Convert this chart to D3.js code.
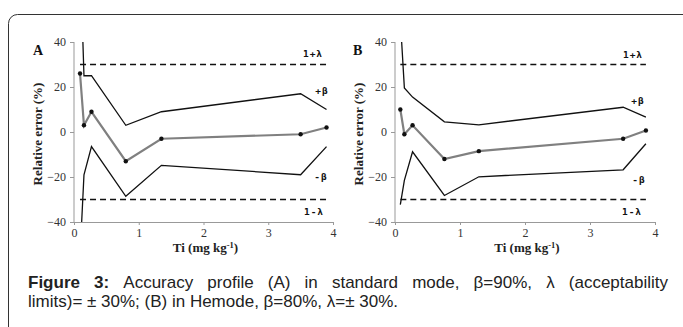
<!DOCTYPE html>
<html>
<head>
<meta charset="utf-8">
<script src="https://cdn.jsdelivr.net/npm/d3@7"></script>
<style>
  body { margin: 0; background: #fff; }
  svg { display: block; }
  .axis-title { font-family: "Liberation Serif", serif; font-weight: bold; font-size: 13px; fill: #222; }
  .panel-letter { font-family: "Liberation Serif", serif; font-weight: bold; font-size: 14px; fill: #111; }
  .anno { font-family: "DejaVu Sans Mono", monospace; font-weight: bold; font-size: 9.5px; fill: #111; }
  .caption { font-family: "Liberation Sans", Arial, sans-serif; font-size: 17px; fill: #222; }
  .tick text { font-family: "Liberation Serif", serif !important; }
</style>
</head>
<body>
<div id="chart"></div>
<script>
// x positions (Ti, mg/kg) and relative error (%) for each panel
const xA = [0.093, 0.154, 0.27, 0.80, 1.35, 3.50, 3.90];
const meanA = [26, 3, 9, -13, -3, -1, 2];
const upperA = [80, 25, 25, 3, 9, 17, 10];
const lowerA = [-55, -19, -6.5, -28.6, -14.8, -19, -6.5];

const xB = [0.082, 0.144, 0.27, 0.76, 1.29, 3.51, 3.86];
const meanB = [10, -1, 3, -12, -8.5, -3, 0.7];
const upperB = [50, 19.6, 15.5, 4.5, 3.2, 11, 6.6];
const lowerB = [-32.3, -21.5, -8.8, -28.2, -19.9, -16.8, -5.2];

const lambdaLimit = 30;
const yTicks = [-40, -20, 0, 20, 40];
const xTicks = [0, 1, 2, 3, 4];

const captionLine1 = "Figure 3: Accuracy profile (A) in standard mode, \u03b2=90%, \u03bb (acceptability";
const captionLine2 = "limits)= \u00b1 30%; (B) in Hemode, \u03b2=80%, \u03bb=\u00b1 30%.";

const W = 683, H = 327;

const svg = d3.select('#chart').append('svg')
    .attr('width', W)
    .attr('height', H);

// outer frame
svg.append('rect')
    .attr('x', 8.5).attr('y', 14.5)
    .attr('width', 700).attr('height', 340)
    .attr('rx', 9)
    .attr('fill', 'none')
    .attr('stroke', '#333')
    .attr('stroke-width', 1);

function styleTicks(a) {
    a.attr('font-family', null).attr('font-size', null);
    a.selectAll('.tick text')
        .style('font-family', '"Liberation Serif", serif')
        .style('font-size', '12px')
        .attr('fill', '#333');
    a.selectAll('.tick line').attr('stroke', '#999');
    a.select('.domain').attr('stroke', '#999');
}

function drawPanel(cfg) {
    const g = svg.append('g');

    const xScale = d3.scaleLinear().domain([0, 4]).range([cfg.left, cfg.right]);
    const yScale = d3.scaleLinear().domain([-40, 40]).range([cfg.bottom, cfg.top]);

    const clipId = 'clip-' + cfg.letter;
    svg.append('clipPath').attr('id', clipId)
        .append('rect')
        .attr('x', cfg.left).attr('y', cfg.top)
        .attr('width', cfg.right - cfg.left).attr('height', cfg.bottom - cfg.top);

    // axes
    const yAxis = d3.axisLeft(yScale).tickValues(yTicks).tickFormat(d3.format('d'))
        .tickSize(4).tickPadding(4);
    const xAxis = d3.axisBottom(xScale).tickValues(xTicks).tickFormat(d3.format('d'))
        .tickSize(3).tickSizeOuter(0).tickPadding(3);

    g.append('g')
        .attr('transform', `translate(${cfg.left},0)`)
        .call(yAxis)
        .call(a => a.select('.domain').remove())
        .call(a => a.append('line')
            .attr('y1', cfg.top).attr('y2', cfg.bottom)
            .attr('stroke', '#999'))
        .call(styleTicks);

    g.append('g')
        .attr('transform', `translate(0,${cfg.bottom})`)
        .call(xAxis)
        .call(styleTicks);

    const marks = g.append('g').attr('clip-path', `url(#${clipId})`);
    const xs = cfg.x;
    const xExtent = d3.extent(xs);

    // acceptance limits
    [lambdaLimit, -lambdaLimit].forEach(v => {
        marks.append('line')
            .attr('x1', xScale(xExtent[0])).attr('x2', xScale(xExtent[1]))
            .attr('y1', yScale(v)).attr('y2', yScale(v))
            .attr('stroke', '#111')
            .attr('stroke-width', 1.5)
            .attr('stroke-dasharray', '6,4');
    });

    const line = d3.line()
        .x(d => xScale(d[0]))
        .y(d => yScale(d[1]));

    [cfg.upper, cfg.lower].forEach(vals => {
        marks.append('path')
            .datum(xs.map((x, i) => [x, vals[i]]))
            .attr('d', line)
            .attr('fill', 'none')
            .attr('stroke', '#111')
            .attr('stroke-width', 1.3);
    });

    const meanPts = xs.map((x, i) => [x, cfg.mean[i]]);
    marks.append('path')
        .datum(meanPts)
        .attr('d', line)
        .attr('fill', 'none')
        .attr('stroke', '#808080')
        .attr('stroke-width', 2.2);

    marks.selectAll('.pt')
        .data(meanPts)
        .join('circle')
        .attr('class', 'pt')
        .attr('cx', d => xScale(d[0]))
        .attr('cy', d => yScale(d[1]))
        .attr('r', 2.2)
        .attr('fill', '#111');

    // annotations
    cfg.anno.forEach(a => {
        g.append('text')
            .attr('class', 'anno')
            .attr('x', a.px).attr('y', a.py)
            .attr('text-anchor', 'middle')
            .style('letter-spacing', '1px')
            .text(a.t);
    });

    g.append('text')
        .attr('class', 'panel-letter')
        .attr('x', cfg.letterX).attr('y', 55)
        .text(cfg.letter);

    g.append('text')
        .attr('class', 'axis-title')
        .attr('transform', `translate(${cfg.left - 32},${(cfg.top + cfg.bottom) / 2 + 2}) rotate(-90)`)
        .attr('text-anchor', 'middle')
        .text('Relative error (%)');

    const xt = g.append('text')
        .attr('class', 'axis-title')
        .attr('x', (cfg.left + cfg.right) / 2 + 2).attr('y', 252)
        .attr('text-anchor', 'middle');
    xt.append('tspan').text('Ti (mg kg');
    xt.append('tspan').attr('dy', -4).style('font-size', '8.5px').text('-1');
    xt.append('tspan').attr('dy', 4).text(')');
}

drawPanel({
    letter: 'A', letterX: 33,
    left: 74, right: 333, top: 42, bottom: 222,
    x: xA, mean: meanA, upper: upperA, lower: lowerA,
    anno: [
        {t: '1+\u03bb', px: 313, py: 57},
        {t: '+\u03b2', px: 322, py: 94},
        {t: '-\u03b2', px: 321, py: 180},
        {t: '1-\u03bb', px: 314, py: 215}
    ]
});

drawPanel({
    letter: 'B', letterX: 353,
    left: 395, right: 655, top: 42, bottom: 222,
    x: xB, mean: meanB, upper: upperB, lower: lowerB,
    anno: [
        {t: '1+\u03bb', px: 633, py: 58},
        {t: '+\u03b2', px: 638, py: 104},
        {t: '-\u03b2', px: 639, py: 183},
        {t: '1-\u03bb', px: 632, py: 215}
    ]
});

// caption, first line justified
function justifiedLine(str, x0, x1, y, boldWords) {
    const words = str.split(' ');
    const t = svg.append('text').attr('class', 'caption').attr('y', y);
    const spans = words.map((w, i) => t.append('tspan')
        .style('font-weight', i < boldWords ? 'bold' : 'normal')
        .text(w));
    const widths = spans.map(s => s.node().getComputedTextLength());
    const gap = (x1 - x0 - d3.sum(widths)) / (words.length - 1);
    let x = x0;
    spans.forEach((s, i) => { s.attr('x', x); x += widths[i] + gap; });
}

justifiedLine(captionLine1, 28, 668, 288, 2);

svg.append('text')
    .attr('class', 'caption')
    .attr('x', 28).attr('y', 307)
    .text(captionLine2);
</script>
</body>
</html>
